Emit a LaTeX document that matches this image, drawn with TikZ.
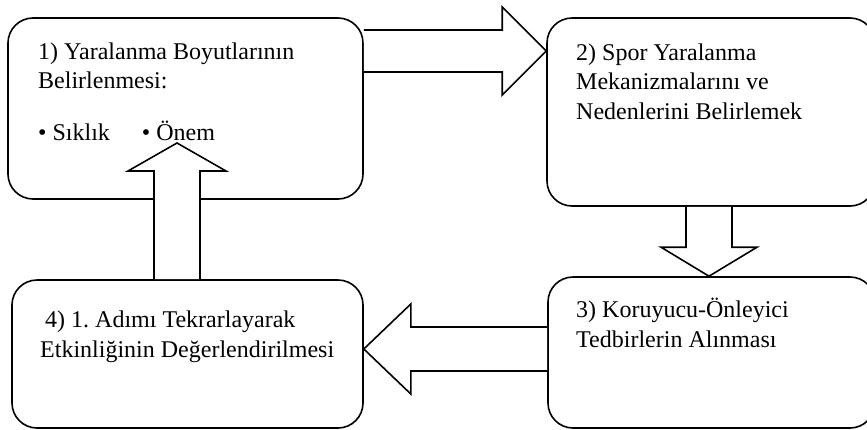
\documentclass[tikz,border=0pt]{standalone}
\usepackage{fontspec}
\setmainfont{Liberation Serif}
\usepackage{tikz}
\usetikzlibrary{calc}

\tikzset{
    stepbox/.style={draw, line width=1.6pt, rounded corners=25pt, inner sep=0pt},
    steptext/.style={anchor=base west, align=left, inner sep=0pt,
        font=\fontsize{24}{29.5}\selectfont},
    blockarrow/.style={draw, fill=white, line width=1.6pt, line join=miter}
}

\begin{document}
\begin{tikzpicture}[x=1pt, y=-1pt]
        \useasboundingbox (0,0) rectangle (867,429);
        \clip (0,0) rectangle (867,429);

        % boxes
        \node[stepbox, minimum width=355pt, minimum height=181pt] (b1) at (185.5, 108.5) {};
        \node[stepbox, minimum width=328pt, minimum height=188pt] (b2) at (711, 112) {};
        \node[stepbox, minimum width=327pt, minimum height=151pt] (b3) at (711.5, 352.5) {};
        \node[stepbox, minimum width=351pt, minimum height=148pt] (b4) at (187.5, 354) {};

        % texts (placed at the baseline of their last line)
        \node[steptext] (t1) at (38, 140) {1) Yaralanma Boyutlarının\\Belirlenmesi:\\[22pt]• Sıklık\hspace{32pt}• Önem};
        \node[steptext] (t2) at (576, 119) {2) Spor Yaralanma\\Mekanizmalarını ve\\Nedenlerini Belirlemek};
        \node[steptext] (t3) at (576, 347) {3) Koruyucu-Önleyici\\Tedbirlerin Alınması};
        \node[steptext] (t4) at (40, 357) {\hspace*{5pt}4) 1.\ Adımı Tekrarlayarak\\Etkinliğinin Değerlendirilmesi};

        \coordinate (a12) at (0, 51);
        \coordinate (a23) at (709, 0);
        \coordinate (a34) at (0, 349);
        \coordinate (tip41) at (177, 143);

        % 1 -> 2
        \draw[blockarrow] ($(b1.east |- a12)+(0,-21)$) -- ($(b2.west |- a12)+(-44,-21)$)
            -- ($(b2.west |- a12)+(-44,-44)$) -- (b2.west |- a12)
            -- ($(b2.west |- a12)+(-44,44)$) -- ($(b2.west |- a12)+(-44,21)$)
            -- ($(b1.east |- a12)+(0,21)$);
        % 2 -> 3
        \draw[blockarrow] ($(a23 |- b2.south)+(-23,0)$) -- ($(a23 |- b3.north)+(-23,-29)$)
            -- ($(a23 |- b3.north)+(-48,-29)$) -- (a23 |- b3.north)
            -- ($(a23 |- b3.north)+(48,-29)$) -- ($(a23 |- b3.north)+(23,-29)$)
            -- ($(a23 |- b2.south)+(23,0)$);
        % 3 -> 4
        \draw[blockarrow] ($(b3.west |- a34)+(0,-22)$) -- ($(b4.east |- a34)+(47,-22)$)
            -- ($(b4.east |- a34)+(47,-45)$) -- (b4.east |- a34)
            -- ($(b4.east |- a34)+(47,45)$) -- ($(b4.east |- a34)+(47,22)$)
            -- ($(b3.west |- a34)+(0,22)$);
        % 4 -> 1
        \draw[blockarrow] ($(tip41 |- b4.north)+(-23,0)$) -- ($(tip41)+(-23,28)$)
            -- ($(tip41)+(-49,28)$) -- (tip41)
            -- ($(tip41)+(49,28)$) -- ($(tip41)+(23,28)$)
            -- ($(tip41 |- b4.north)+(23,0)$);
    \end{tikzpicture}
\end{document}
